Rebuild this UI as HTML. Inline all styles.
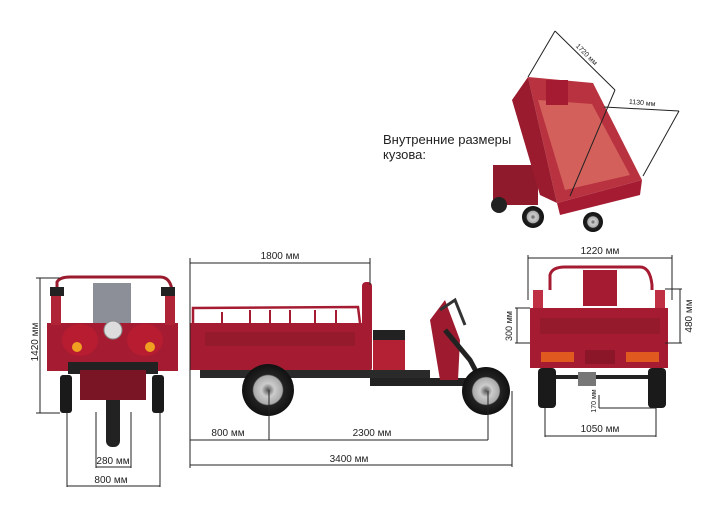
<!DOCTYPE html>
<html><head><meta charset="utf-8"><style>
html,body{margin:0;padding:0;background:#fff;width:720px;height:518px;overflow:hidden}
svg{display:block}
text{font-family:"Liberation Sans",sans-serif;fill:#222}
</style></head><body>
<svg width="720" height="518" viewBox="0 0 720 518" xmlns="http://www.w3.org/2000/svg">
<defs>
<radialGradient id="wh"><stop offset="0" stop-color="#555"/><stop offset="0.25" stop-color="#ccc"/><stop offset="0.55" stop-color="#aaa"/><stop offset="0.6" stop-color="#222"/><stop offset="1" stop-color="#111"/></radialGradient>
</defs>

<!-- ===== FRONT VIEW ===== -->
<g>
<path d="M57 300 L57 282 Q60 277 70 277 L160 277 Q170 277 172 290 L172 300" fill="none" stroke="#9a1a2e" stroke-width="3"/>
<rect x="47" y="323" width="131" height="48" fill="#a51c32"/>
<rect x="51" y="290" width="10" height="35" fill="#b02438"/>
<rect x="165" y="290" width="10" height="35" fill="#b02438"/>
<rect x="93" y="283" width="38" height="40" fill="#8d8f98"/>
<rect x="50" y="287" width="14" height="9" fill="#222"/>
<rect x="161" y="287" width="14" height="9" fill="#222"/>
<ellipse cx="80" cy="340" rx="18" ry="16" fill="#b81c30"/>
<ellipse cx="145" cy="340" rx="18" ry="16" fill="#b81c30"/>
<circle cx="77" cy="347" r="5" fill="#f0a020"/>
<circle cx="150" cy="347" r="5" fill="#f0a020"/>
<circle cx="113" cy="330" r="9" fill="#ddd" stroke="#888"/>
<rect x="68" y="362" width="90" height="12" fill="#222"/>
<rect x="60" y="375" width="12" height="38" rx="3" fill="#1a1a1a"/>
<rect x="152" y="375" width="12" height="38" rx="3" fill="#1a1a1a"/>
<rect x="106" y="385" width="14" height="62" rx="6" fill="#222"/>
<rect x="80" y="370" width="66" height="30" fill="#7a1525"/>
</g>
<g stroke="#222" stroke-width="1" fill="none">
<line x1="40" y1="278" x2="40" y2="413"/><line x1="36" y1="278" x2="60" y2="278"/><line x1="36" y1="413" x2="60" y2="413"/>
<line x1="96" y1="412" x2="96" y2="468"/><line x1="131" y1="412" x2="131" y2="468"/><line x1="96" y1="467" x2="131" y2="467"/>
<line x1="67" y1="412" x2="67" y2="487"/><line x1="160" y1="412" x2="160" y2="487"/><line x1="67" y1="486" x2="160" y2="486"/>
</g>
<text x="38" y="342" font-size="10" text-anchor="middle" transform="rotate(-90 38 342)">1420 мм</text>
<text x="113" y="464" font-size="10" text-anchor="middle">280 мм</text>
<text x="111" y="483" font-size="10" text-anchor="middle">800 мм</text>

<!-- ===== SIDE VIEW ===== -->
<g>
<path d="M193 323 L193 308 L358 307 L360 323" fill="none" stroke="#a51c32" stroke-width="2.5"/>
<path d="M222 323 L222 312 M250 323 L250 310 M270 323 L270 310 M290 323 L290 310 M315 323 L315 310 M336 323 L336 310" stroke="#a51c32" stroke-width="2"/>
<rect x="190" y="323" width="173" height="47" fill="#a51c32"/>
<rect x="205" y="332" width="150" height="14" fill="#951a2c"/>
<rect x="362" y="282" width="10" height="90" rx="4" fill="#a51c32"/>
<rect x="373" y="330" width="32" height="48" fill="#b42034"/>
<rect x="373" y="330" width="32" height="10" fill="#222"/>
<rect x="200" y="370" width="230" height="8" fill="#2a2a2a"/>
<rect x="370" y="378" width="100" height="8" fill="#222"/>
<path d="M430 320 L445 300 L460 340 L458 380 L440 380 Z" fill="#9e1a2e"/>
<path d="M445 330 L470 360 L487 392" stroke="#222" stroke-width="5" fill="none"/>
<path d="M440 310 L455 300 L465 325" stroke="#333" stroke-width="3" fill="none"/>
<circle cx="268" cy="390" r="26" fill="url(#wh)"/>
<circle cx="486" cy="391" r="24" fill="url(#wh)"/>
</g>
<g stroke="#222" stroke-width="1" fill="none">
<line x1="190" y1="263" x2="370" y2="263"/><line x1="190" y1="258" x2="190" y2="468"/><line x1="370" y1="258" x2="370" y2="285"/>
<line x1="190" y1="440" x2="488" y2="440"/><line x1="269" y1="390" x2="269" y2="440"/><line x1="488" y1="391" x2="488" y2="440"/>
<line x1="190" y1="465" x2="512" y2="465"/><line x1="512" y1="391" x2="512" y2="467"/>
</g>
<text x="280" y="259" font-size="10" text-anchor="middle">1800 мм</text>
<text x="228" y="436" font-size="10" text-anchor="middle">800 мм</text>
<text x="372" y="436" font-size="10" text-anchor="middle">2300 мм</text>
<text x="349" y="462" font-size="10" text-anchor="middle">3400 мм</text>

<!-- ===== REAR VIEW ===== -->
<g>
<path d="M550 290 L550 275 Q552 267 565 267 L640 267 Q650 267 652 285 L652 290" fill="none" stroke="#a51c32" stroke-width="3"/>
<rect x="583" y="270" width="34" height="36" fill="#a51c32"/>
<rect x="533" y="290" width="10" height="20" fill="#c03044"/>
<rect x="655" y="290" width="10" height="20" fill="#c03044"/>
<rect x="530" y="308" width="138" height="60" fill="#a51c32"/>
<rect x="540" y="318" width="120" height="16" fill="#951a2c"/>
<rect x="541" y="352" width="33" height="10" fill="#e05a20"/>
<rect x="626" y="352" width="33" height="10" fill="#e05a20"/>
<rect x="585" y="350" width="30" height="14" fill="#8a1628"/>
<rect x="548" y="375" width="118" height="4" fill="#222"/>
<rect x="538" y="368" width="18" height="40" rx="4" fill="#1a1a1a"/>
<rect x="648" y="368" width="18" height="40" rx="4" fill="#1a1a1a"/>
<rect x="578" y="372" width="18" height="14" fill="#777"/>
</g>
<g stroke="#222" stroke-width="1" fill="none">
<line x1="528" y1="258" x2="672" y2="258"/><line x1="528" y1="255" x2="528" y2="300"/><line x1="672" y1="255" x2="672" y2="300"/>
<line x1="665" y1="289" x2="682" y2="289"/><line x1="665" y1="343" x2="682" y2="343"/><line x1="680" y1="289" x2="680" y2="343"/>
<line x1="515" y1="308" x2="530" y2="308"/><line x1="515" y1="343" x2="530" y2="343"/><line x1="517" y1="308" x2="517" y2="343"/>
<line x1="599" y1="395" x2="599" y2="408"/><line x1="599" y1="408" x2="656" y2="408"/>
<line x1="545" y1="408" x2="545" y2="437"/><line x1="656" y1="408" x2="656" y2="437"/><line x1="545" y1="436" x2="656" y2="436"/>
</g>
<text x="600" y="254" font-size="10" text-anchor="middle">1220 мм</text>
<text x="692" y="316" font-size="10" text-anchor="middle" transform="rotate(-90 692 316)">480 мм</text>
<text x="512" y="326" font-size="9" text-anchor="middle" transform="rotate(-90 512 326)">300 мм</text>
<text x="596" y="401" font-size="7" text-anchor="middle" transform="rotate(-90 596 401)">170 мм</text>
<text x="600" y="432" font-size="10" text-anchor="middle">1050 мм</text>

<!-- ===== TILTED VIEW ===== -->
<g>
<rect x="493" y="165" width="45" height="40" fill="#8e1a2c"/>
<circle cx="499" cy="205" r="8" fill="#222"/>
<circle cx="533" cy="217" r="11" fill="url(#wh)"/>
<circle cx="593" cy="222" r="10" fill="url(#wh)"/>
<path d="M528 77 L593 83 L642 180 L557 203 Z" fill="#b8323f"/>
<path d="M538 100 L592 104 L630 175 L565 190 Z" fill="#d4605c"/>
<path d="M528 77 L557 203 L540 195 L512 100 Z" fill="#9a1a2e"/>
<path d="M557 203 L642 180 L640 195 L560 215 Z" fill="#a51c32"/>
<rect x="546" y="80" width="22" height="25" fill="#a51c32"/>
</g>
<g stroke="#222" stroke-width="1" fill="none">
<line x1="555" y1="31" x2="615" y2="90"/><line x1="555" y1="31" x2="528" y2="77"/><line x1="615" y1="90" x2="570" y2="196"/>
<line x1="604" y1="107" x2="679" y2="111"/><line x1="679" y1="111" x2="643" y2="176"/>
</g>
<text x="585" y="56" font-size="7" text-anchor="middle" transform="rotate(45 585 56)">1720 мм</text>
<text x="642" y="105" font-size="7" text-anchor="middle" transform="rotate(5 642 105)">1130 мм</text>
<text x="383" y="144" font-size="13">Внутренние размеры</text>
<text x="383" y="159" font-size="13">кузова:</text>
</svg>
</body></html>
